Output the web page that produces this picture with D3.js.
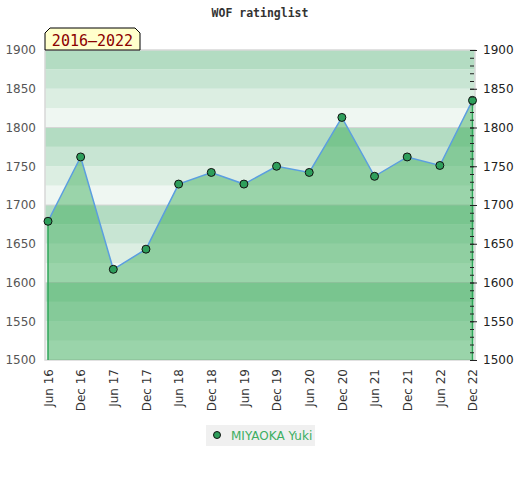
<!DOCTYPE html>
<html lang="en">
<head>
    <meta charset="UTF-8">
    <title>WOF ratinglist</title>
    <script src="https://d3js.org/d3.v7.min.js"></script>
    <style>
        body { margin: 0; background: #fff; }
        svg { display: block; }
    </style>
</head>
<body>
<svg id="chart" width="520" height="480"></svg>
<script>
    // chart data
    const months = ["Jun 16", "Dec 16", "Jun 17", "Dec 17", "Jun 18", "Dec 18", "Jun 19",
                    "Dec 19", "Jun 20", "Dec 20", "Jun 21", "Dec 21", "Jun 22", "Dec 22"];
    const ratings = [1679, 1762, 1617, 1643, 1727, 1742, 1727, 1750, 1742, 1813, 1737, 1762, 1751, 1835];
    const yTicks = [1500, 1550, 1600, 1650, 1700, 1750, 1800, 1850, 1900];
    const playerName = "MIYAOKA Yuki";
    const title = "WOF ratinglist";
    const period = "2016\u20132022";

    const svg = d3.select("#chart");
    const plotLeft = 45, plotRight = 475, plotTop = 50, plotBottom = 360;

    const x = d3.scalePoint().domain(months).range([48, 472.5]);
    const y = d3.scaleLinear().domain([1500, 1900]).range([plotBottom, plotTop]);

    // background bands, 25 points each
    const bandColors = ["#b3dcc2", "#c8e5d3", "#dceee2", "#eff7f2"];
    const bands = d3.range(1500, 1900, 25);
    svg.selectAll("rect.band")
        .data(bands)
        .enter().append("rect")
        .attr("class", "band")
        .attr("x", plotLeft)
        .attr("width", plotRight - plotLeft)
        .attr("y", d => y(d + 25))
        .attr("height", d => y(d) - y(d + 25))
        .attr("fill", d => bandColors[3 - ((d - 1500) / 25) % 4]);

    // faint lines every 100
    [1600, 1700, 1800].forEach(v => {
        svg.append("line")
            .attr("x1", plotLeft).attr("x2", plotRight)
            .attr("y1", y(v)).attr("y2", y(v))
            .attr("stroke", "#d6d6d6").attr("stroke-width", 1);
    });

    svg.append("rect")
        .attr("x", plotLeft).attr("y", plotTop)
        .attr("width", plotRight - plotLeft).attr("height", plotBottom - plotTop)
        .attr("fill", "none").attr("stroke", "#d8d8d8").attr("stroke-width", 1.5);

    const series = months.map((m, i) => ({ m: m, v: ratings[i] }));

    // area under the rating line
    const area = d3.area()
        .x(d => x(d.m))
        .y0(plotBottom)
        .y1(d => y(d.v));
    svg.append("path")
        .datum(series)
        .attr("fill", "#34a853")
        .attr("fill-opacity", 0.45)
        .attr("d", area);

    // green edges at both ends
    [series[0], series[series.length - 1]].forEach(d => {
        svg.append("line")
            .attr("x1", x(d.m)).attr("x2", x(d.m))
            .attr("y1", y(d.v)).attr("y2", plotBottom)
            .attr("stroke", "#2fa65a").attr("stroke-width", 1.5);
    });

    const line = d3.line()
        .x(d => x(d.m))
        .y(d => y(d.v));
    svg.append("path")
        .datum(series)
        .attr("fill", "none")
        .attr("stroke", "#5b9ee0")
        .attr("stroke-width", 1.5)
        .attr("d", line);

    svg.selectAll("circle.pt")
        .data(series)
        .enter().append("circle")
        .attr("class", "pt")
        .attr("cx", d => x(d.m))
        .attr("cy", d => y(d.v))
        .attr("r", 4)
        .attr("fill", "#2e9e5b")
        .attr("stroke", "#111")
        .attr("stroke-width", 1);

    // left axis: labels only
    const leftAxis = svg.append("g")
        .attr("transform", `translate(${plotLeft},0)`)
        .call(d3.axisLeft(y).tickValues(yTicks).tickSize(0).tickPadding(9).tickFormat(d3.format("d")));
    leftAxis.select(".domain").remove();
    leftAxis.selectAll("text")
        .attr("fill", "#555")
        .style("font-family", "DejaVu Sans")
        .style("font-size", "12px");

    // right axis: minor ticks every 10 and labelled major ticks
    const minorAxis = svg.append("g")
        .attr("transform", "translate(470,0)")
        .call(d3.axisRight(y).tickValues(d3.range(1500, 1901, 10)).tickSize(4).tickFormat(""));
    minorAxis.select(".domain").remove();
    minorAxis.selectAll("line").attr("stroke", "#222");

    const rightAxis = svg.append("g")
        .attr("transform", "translate(470,0)")
        .call(d3.axisRight(y).tickValues(yTicks).tickSize(7).tickPadding(6).tickFormat(d3.format("d")));
    rightAxis.select(".domain").remove();
    rightAxis.selectAll("line").attr("stroke", "#222");
    rightAxis.selectAll("text")
        .attr("fill", "#222")
        .style("font-family", "DejaVu Sans")
        .style("font-size", "12px");

    // x axis labels rotated
    const xAxis = svg.append("g")
        .attr("transform", `translate(0,${plotBottom})`)
        .call(d3.axisBottom(x).tickSize(0).tickPadding(0));
    xAxis.select(".domain").remove();
    xAxis.selectAll("text")
        .attr("transform", "rotate(-90)")
        .attr("text-anchor", "end")
        .attr("x", -9)
        .attr("y", 0)
        .attr("dy", "0.35em")
        .attr("fill", "#333")
        .style("font-family", "DejaVu Sans")
        .style("font-size", "12px");

    // title
    svg.append("text")
        .attr("x", 260).attr("y", 17)
        .attr("text-anchor", "middle")
        .attr("font-family", "DejaVu Sans Mono")
        .attr("font-weight", "bold")
        .attr("font-size", "11.5px")
        .attr("fill", "#333")
        .text(title);

    // period badge
    const bx0 = 45, bx1 = 140, by0 = 28, by1 = 50, c = 5;
    svg.append("path")
        .attr("d", `M${bx0},${by1} L${bx0},${by0 + c} L${bx0 + c},${by0} L${bx1 - c},${by0} L${bx1},${by0 + c} L${bx1},${by1} Z`)
        .attr("fill", "#ffffcc")
        .attr("stroke", "#000")
        .attr("stroke-width", 1);
    svg.append("text")
        .attr("x", (bx0 + bx1) / 2).attr("y", 46)
        .attr("text-anchor", "middle")
        .attr("font-family", "DejaVu Sans Mono")
        .attr("font-size", "15px")
        .attr("fill", "#8b0000")
        .text(period);

    // legend
    svg.append("rect")
        .attr("x", 206).attr("y", 425)
        .attr("width", 109).attr("height", 21)
        .attr("fill", "#f0f0f0");
    svg.append("circle")
        .attr("cx", 217).attr("cy", 435)
        .attr("r", 3.5)
        .attr("fill", "#2e9e5b")
        .attr("stroke", "#111");
    svg.append("text")
        .attr("x", 231).attr("y", 440)
        .attr("font-family", "DejaVu Sans")
        .attr("font-size", "12px")
        .attr("fill", "#3cae62")
        .text(playerName);
</script>
</body>
</html>
